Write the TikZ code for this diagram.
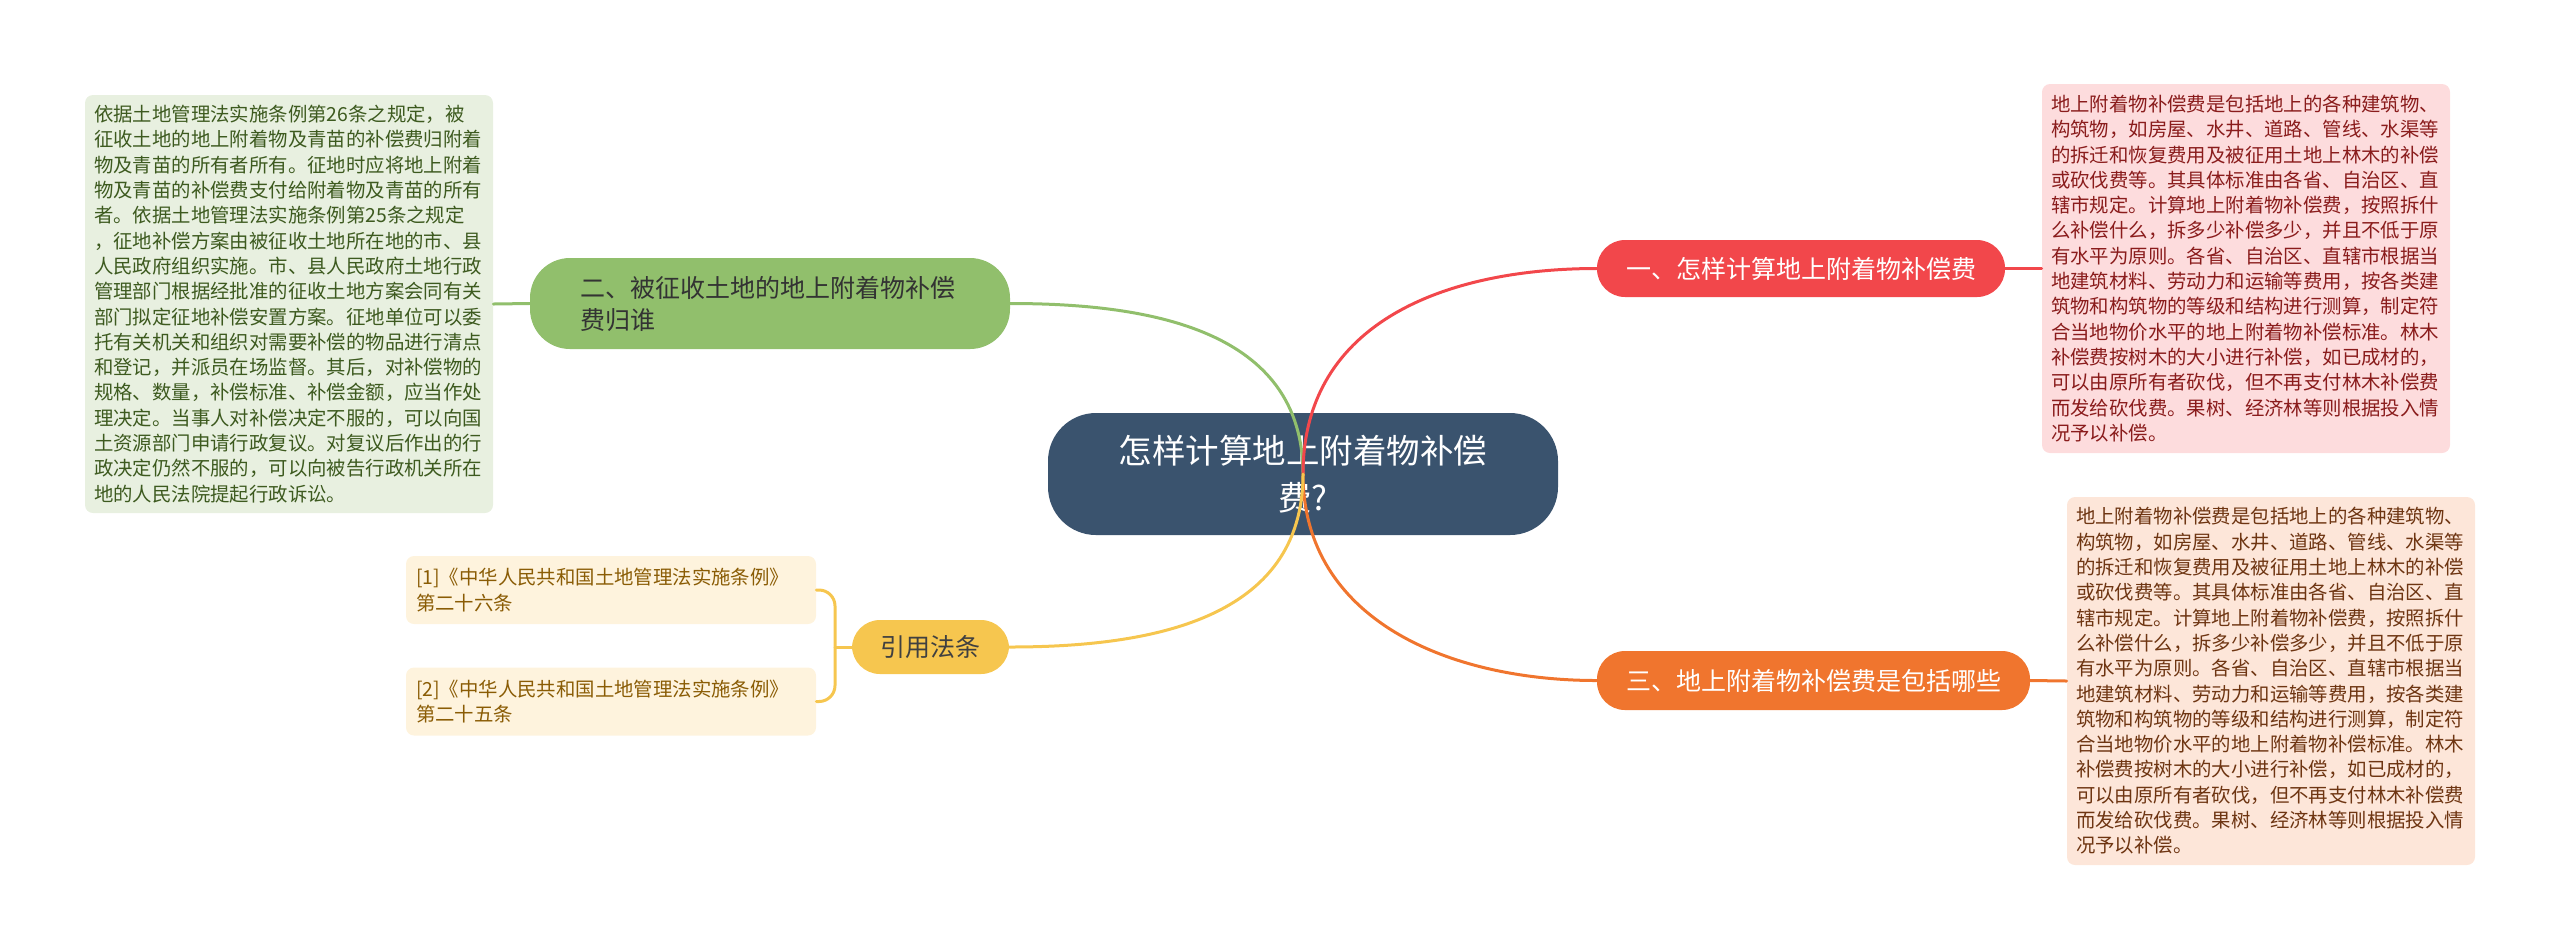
\documentclass[tikz,border=0pt]{standalone}
\usepackage{fontspec}
\setmainfont{Noto Sans CJK SC}
\usepackage{xcolor}
\definecolor{rootc}{HTML}{3A536E}
\definecolor{greenc}{HTML}{91BF6C}
\definecolor{greenbox}{HTML}{E8F0E0}
\definecolor{greentext}{HTML}{3D5A1F}
\definecolor{redc}{HTML}{F2474B}
\definecolor{redbox}{HTML}{FDDCDD}
\definecolor{redtext}{HTML}{8A1C1C}
\definecolor{orangec}{HTML}{F0752E}
\definecolor{orangebox}{HTML}{FDE6D9}
\definecolor{orangetext}{HTML}{6E3512}
\definecolor{yellowc}{HTML}{F6C64F}
\definecolor{yellowbox}{HTML}{FEF3DD}
\definecolor{yellowtext}{HTML}{8A5C05}
\tikzset{
  rootnode/.style={fill=rootc, text=white, rounded corners=24pt, minimum width=255pt, minimum height=61pt, align=center, font=\fontsize{16.75}{23.5}\selectfont},
  branch/.style={rounded corners=14pt, minimum height=28.5pt, inner sep=0pt, font=\fontsize{12.5}{16}\selectfont},
  leafbox/.style={rounded corners=4pt, text width=195pt, inner xsep=4.5pt, inner ysep=3pt, align=left, font=\fontsize{9.7}{12.65}\selectfont},
  link/.style={line width=1.5pt, line cap=round},
}
\newcommand{\buchangtext}{地上附着物补偿费是包括地上的各种建筑物、\\
构筑物，如房屋、水井、道路、管线、水渠等\\
的拆迁和恢复费用及被征用土地上林木的补偿\\
或砍伐费等。其具体标准由各省、自治区、直\\
辖市规定。计算地上附着物补偿费，按照拆什\\
么补偿什么，拆多少补偿多少，并且不低于原\\
有水平为原则。各省、自治区、直辖市根据当\\
地建筑材料、劳动力和运输等费用，按各类建\\
筑物和构筑物的等级和结构进行测算，制定符\\
合当地物价水平的地上附着物补偿标准。林木\\
补偿费按树木的大小进行补偿，如已成材的，\\
可以由原所有者砍伐，但不再支付林木补偿费\\
而发给砍伐费。果树、经济林等则根据投入情\\
况予以补偿。}

\begin{document}
\begin{tikzpicture}[x=0.5pt, y=-0.5pt]
\useasboundingbox (0,0) rectangle (2560,950);
% centre
\node[rootnode] (root) at (1303,474) {怎样计算地上附着物补偿\\费?};
\coordinate (hub) at (root.center);
% branches
\node[branch, fill=greenc, text=black!80, minimum width=240pt, minimum height=45.5pt, rounded corners=20pt, text width=190pt, align=left] (guishu) at (770,303.5) {二、被征收土地的地上附着物补偿\\费归谁};
\node[branch, fill=redc, text=white, minimum width=204pt] (jisuan) at (1801,268.5) {一、怎样计算地上附着物补偿费};
\node[branch, fill=orangec, text=white, minimum width=216.5pt, minimum height=29.5pt] (baokuo) at (1813.5,680.5) {三、地上附着物补偿费是包括哪些};
\node[branch, fill=yellowc, text=black!75, minimum width=78.5pt, minimum height=27pt] (fatiao) at (930.5,647) {引用法条};
% leaves
\node[leafbox, fill=greenbox, text=greentext, minimum height=209pt] (guishutxt) at (289,304) {依据土地管理法实施条例第26条之规定，被\\
征收土地的地上附着物及青苗的补偿费归附着\\
物及青苗的所有者所有。征地时应将地上附着\\
物及青苗的补偿费支付给附着物及青苗的所有\\
者。依据土地管理法实施条例第25条之规定\\
，征地补偿方案由被征收土地所在地的市、县\\
人民政府组织实施。市、县人民政府土地行政\\
管理部门根据经批准的征收土地方案会同有关\\
部门拟定征地补偿安置方案。征地单位可以委\\
托有关机关和组织对需要补偿的物品进行清点\\
和登记，并派员在场监督。其后，对补偿物的\\
规格、数量，补偿标准、补偿金额，应当作处\\
理决定。当事人对补偿决定不服的，可以向国\\
土资源部门申请行政复议。对复议后作出的行\\
政决定仍然不服的，可以向被告行政机关所在\\
地的人民法院提起行政诉讼。};
\node[leafbox, fill=redbox, text=redtext, minimum height=184.5pt] (jisuantxt) at (2246,268.5) {\buchangtext};
\node[leafbox, fill=orangebox, text=orangetext, minimum height=184pt] (baokuotxt) at (2271,681) {\buchangtext};
\node[leafbox, fill=yellowbox, text=yellowtext, minimum height=34pt, inner xsep=5pt] (ref1) at (611,590) {[1]《中华人民共和国土地管理法实施条例》\\第二十六条};
\node[leafbox, fill=yellowbox, text=yellowtext, minimum height=34pt, inner xsep=5pt] (ref2) at (611,701.5) {[2]《中华人民共和国土地管理法实施条例》\\第二十五条};
\coordinate (fork) at (835,647);
% connectors
\draw[link, draw=greenc] (hub) .. controls +(0,-144) and +(140,0) .. (guishu.east);
\draw[link, draw=redc] (hub) .. controls +(0,-154) and +(-147,0) .. (jisuan.west);
\draw[link, draw=orangec] (hub) .. controls +(0,146) and +(-147,0) .. (baokuo.west);
\draw[link, draw=yellowc] (hub) .. controls +(0,146) and +(141,0) .. (fatiao.east);
\draw[link, draw=greenc] (guishu.west) -- (guishutxt.east);
\draw[link, draw=redc] (jisuan.east) -- (jisuantxt.west);
\draw[link, draw=orangec] (baokuo.east) -- (baokuotxt.west);
\draw[link, draw=yellowc] (fatiao.west) -- (fork);
\draw[link, draw=yellowc, rounded corners=8pt] (ref1.east) -| (fork) |- (ref2.east);
\end{tikzpicture}
\end{document}
